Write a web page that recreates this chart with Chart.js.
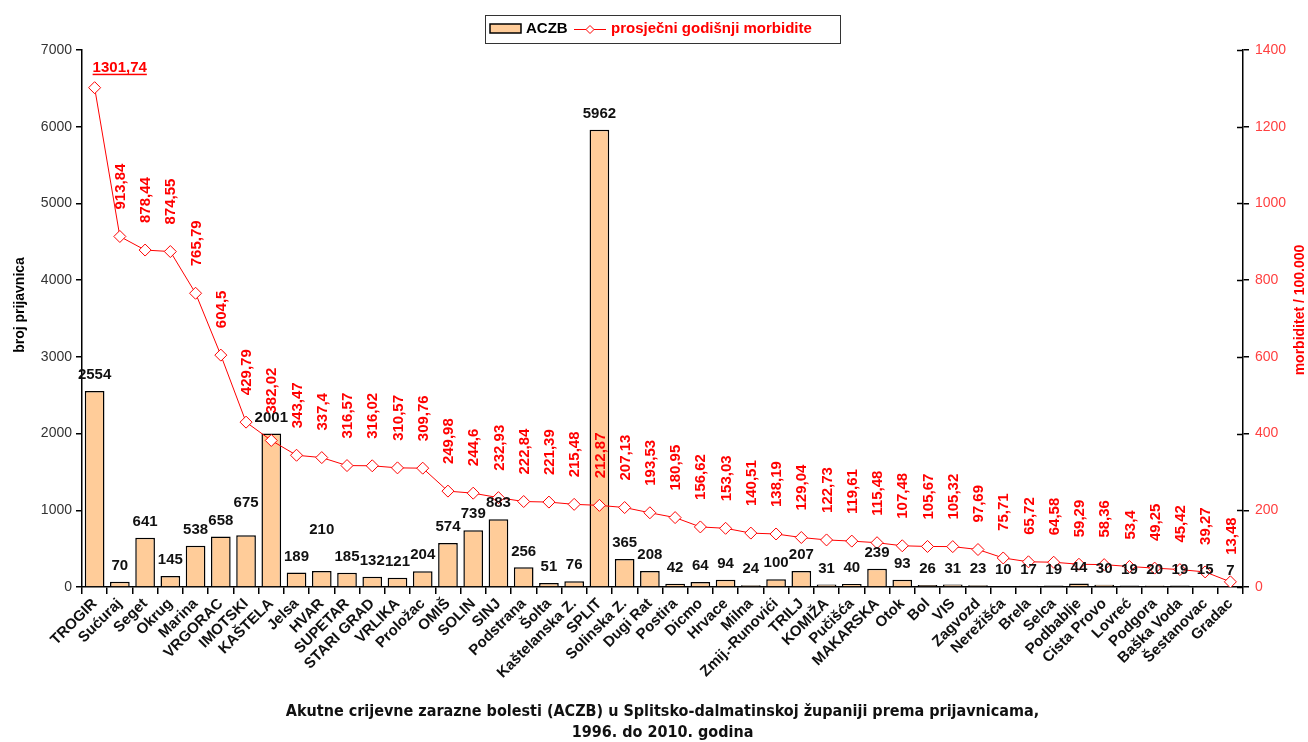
<!DOCTYPE html>
<html>
<head>
<meta charset="utf-8">
<title>ACZB - Splitsko-dalmatinska županija</title>
<script src="https://cdn.jsdelivr.net/npm/chart.js@4.4.1/dist/chart.umd.min.js"></script>
<style>
  html, body { margin: 0; padding: 0; background: #fff; }
</style>
</head>
<body>
<canvas id="chart" width="1308" height="742"></canvas>
<script>
// places, ordered by average yearly morbidity
const places = ['TROGIR', 'Sućuraj', 'Seget', 'Okrug', 'Marina', 'VRGORAC', 'IMOTSKI', 'KAŠTELA',
  'Jelsa', 'HVAR', 'SUPETAR', 'STARI GRAD', 'VRLIKA', 'Proložac', 'OMIŠ', 'SOLIN', 'SINJ',
  'Podstrana', 'Šolta', 'Kaštelanska Z.', 'SPLIT', 'Solinska Z.', 'Dugi Rat', 'Postira', 'Dicmo',
  'Hrvace', 'Milna', 'Zmij.-Runovići', 'TRILJ', 'KOMIŽA', 'Pučišća', 'MAKARSKA', 'Otok', 'Bol',
  'VIS', 'Zagvozd', 'Nerežišća', 'Brela', 'Selca', 'Podbablje', 'Cista Provo', 'Lovreć',
  'Podgora', 'Baška Voda', 'Šestanovac', 'Gradac'];

// number of reports (ACZB)
const cases = [2554, 70, 641, 145, 538, 658, 675, 2001, 189, 210, 185, 132, 121, 204, 574, 739, 883,
  256, 51, 76, 5962, 365, 208, 42, 64, 94, 24, 100, 207, 31, 40, 239, 93, 26, 31, 23, 10, 17, 19,
  44, 30, 19, 20, 19, 15, 7];

// average yearly morbidity per 100.000
const morbidity = [1301.74, 913.84, 878.44, 874.55, 765.79, 604.5, 429.79, 382.02, 343.47, 337.4,
  316.57, 316.02, 310.57, 309.76, 249.98, 244.6, 232.93, 222.84, 221.39, 215.48, 212.87, 207.13,
  193.53, 180.95, 156.62, 153.03, 140.51, 138.19, 129.04, 122.73, 119.61, 115.48, 107.48, 105.67,
  105.32, 97.69, 75.71, 65.72, 64.58, 59.29, 58.36, 53.4, 49.25, 45.42, 39.27, 13.48];

const casesMax = 7000, casesStep = 1000;
const morbMax = 1400, morbStep = 200;

const seriesNames = ['ACZB', 'prosječni godišnji morbidite'];
const captionLines = [
  'Akutne crijevne zarazne bolesti (ACZB) u Splitsko-dalmatinskoj županiji prema prijavnicama,',
  '1996. do 2010. godina'
];

const FONT = '"Liberation Sans", Arial, sans-serif';
const BAR_FILL = '#ffcc99';
const RED = '#ff0000';

// bar labels that sit higher than the rest
const barLift = { 'IMOTSKI': 16, 'HVAR': 25 };

function fmt(v) {
  return String(v).replace('.', ',');
}

function diamond(ctx, x, y, r) {
  ctx.beginPath();
  ctx.moveTo(x, y - r);
  ctx.lineTo(x + r, y);
  ctx.lineTo(x, y + r);
  ctx.lineTo(x - r, y);
  ctx.closePath();
  ctx.fillStyle = '#fff';
  ctx.fill();
  ctx.strokeStyle = RED;
  ctx.lineWidth = 1;
  ctx.stroke();
}

const decorations = {
  id: 'decorations',
  afterDatasetsDraw(chart) {
    const ctx = chart.ctx;
    // dataset 0 is the line, dataset 1 the bars
    const points = chart.getDatasetMeta(0).data;
    const bars = chart.getDatasetMeta(1).data;
    ctx.save();

    // value on top of each bar
    ctx.font = 'bold 15px ' + FONT;
    ctx.fillStyle = '#111';
    ctx.textAlign = 'center';
    ctx.textBaseline = 'middle';
    bars.forEach((bar, i) => {
      const lift = barLift[places[i]] || 0;
      ctx.fillText(String(cases[i]), bar.x, bar.y - 16 - lift);
    });

    // morbidity labels, written upwards above the markers
    ctx.fillStyle = RED;
    points.forEach((pt, i) => {
      const text = fmt(morbidity[i]);
      if (i === 0) {
        ctx.textAlign = 'left';
        ctx.textBaseline = 'alphabetic';
        const x0 = pt.x - 2, y0 = pt.y - 16;
        ctx.fillText(text, x0, y0);
        const w = ctx.measureText(text).width;
        ctx.fillRect(x0, y0 + 2, w, 1.5);
        return;
      }
      ctx.save();
      ctx.translate(pt.x + 1, pt.y - 27);
      ctx.rotate(-Math.PI / 2);
      ctx.textAlign = 'left';
      ctx.textBaseline = 'middle';
      ctx.fillText(text, 0, 0);
      ctx.restore();
    });
    ctx.restore();
  },
  afterDraw(chart) {
    const ctx = chart.ctx;
    const area = chart.chartArea;
    ctx.save();

    // right axis ticks cross the axis line
    const right = chart.scales.y1;
    ctx.strokeStyle = '#000';
    ctx.lineWidth = 1.5;
    right.ticks.forEach(t => {
      const y = Math.round(right.getPixelForValue(t.value)) + 0.5;
      ctx.beginPath();
      ctx.moveTo(area.right - 6, y);
      ctx.lineTo(area.right, y);
      ctx.stroke();
    });

    // axis titles
    ctx.font = 'bold 14px ' + FONT;
    ctx.textAlign = 'center';
    ctx.textBaseline = 'middle';
    ctx.fillStyle = '#000';
    ctx.save();
    ctx.translate(20, 305);
    ctx.rotate(-Math.PI / 2);
    ctx.fillText('broj prijavnica', 0, 0);
    ctx.restore();
    ctx.fillStyle = RED;
    ctx.save();
    ctx.translate(1300, 310);
    ctx.rotate(-Math.PI / 2);
    ctx.fillText('morbiditet / 100.000', 0, 0);
    ctx.restore();

    // caption under the axis
    ctx.fillStyle = '#111';
    ctx.font = 'bold 16px "Liberation Sans Narrow", "DejaVu Sans Condensed", ' + FONT;
    const cx = (area.left + area.right) / 2;
    ctx.fillText(captionLines[0], cx, 712);
    ctx.fillText(captionLines[1], cx, 733);

    // legend box
    const lx = 485, ly = 15, lw = 355, lh = 28;
    ctx.fillStyle = '#fff';
    ctx.fillRect(lx, ly, lw, lh);
    ctx.strokeStyle = '#333';
    ctx.lineWidth = 1;
    ctx.strokeRect(lx + 0.5, ly + 0.5, lw, lh);

    ctx.fillStyle = BAR_FILL;
    ctx.fillRect(490, 24, 31, 9);
    ctx.strokeStyle = '#000';
    ctx.lineWidth = 1.5;
    ctx.strokeRect(490, 24, 31, 9);

    ctx.font = 'bold 15px ' + FONT;
    ctx.textAlign = 'left';
    ctx.fillStyle = '#000';
    ctx.fillText(seriesNames[0], 526, 29);

    ctx.strokeStyle = RED;
    ctx.lineWidth = 1;
    ctx.beginPath();
    ctx.moveTo(574, 29.5);
    ctx.lineTo(606, 29.5);
    ctx.stroke();
    diamond(ctx, 590, 29.5, 4);

    ctx.save();
    ctx.beginPath();
    ctx.rect(lx, ly, lw - 1, lh);
    ctx.clip();
    ctx.fillStyle = RED;
    ctx.font = 'bold 15px ' + FONT;
    ctx.fillText(seriesNames[1], 611, 29);
    ctx.restore();

    ctx.restore();
  }
};

new Chart(document.getElementById('chart'), {
  data: {
    labels: places,
    datasets: [
      {
        type: 'line',
        label: seriesNames[1],
        data: morbidity,
        yAxisID: 'y1',
        order: 0,
        borderColor: RED,
        borderWidth: 1,
        tension: 0,
        pointStyle: 'rectRot',
        pointRadius: 6,
        pointBackgroundColor: '#fff',
        pointBorderColor: RED,
        pointBorderWidth: 1
      },
      {
        type: 'bar',
        label: seriesNames[0],
        data: cases,
        yAxisID: 'y',
        order: 1,
        backgroundColor: BAR_FILL,
        borderColor: '#000',
        borderWidth: 1.5,
        barPercentage: 0.78,
        categoryPercentage: 1
      }
    ]
  },
  options: {
    responsive: false,
    animation: false,
    layout: { padding: { top: 50, left: 0, right: 0, bottom: 0 } },
    plugins: {
      legend: { display: false },
      title: { display: false },
      tooltip: { enabled: false }
    },
    scales: {
      x: {
        offset: true,
        grid: { drawOnChartArea: false, drawTicks: true, tickLength: 7, color: '#000', lineWidth: 1.5, offset: true },
        border: { color: '#000', width: 1.5 },
        ticks: {
          autoSkip: false,
          minRotation: 45,
          maxRotation: 45,
          padding: 1,
          color: '#111',
          font: { family: FONT, size: 15, weight: 'bold' }
        },
        afterFit(scale) { scale.height = 155; }
      },
      y: {
        position: 'left',
        min: 0,
        max: casesMax,
        grid: { drawOnChartArea: false, tickLength: 6, color: '#000', lineWidth: 1.5 },
        border: { color: '#000', width: 1.5 },
        ticks: {
          stepSize: casesStep,
          padding: 4,
          color: '#333',
          font: { family: FONT, size: 14 },
          callback: v => String(v)
        },
        afterFit(scale) { scale.width = 82; }
      },
      y1: {
        position: 'right',
        min: 0,
        max: morbMax,
        grid: { drawOnChartArea: false, tickLength: 6, color: '#000', lineWidth: 1.5 },
        border: { color: '#000', width: 1.5 },
        ticks: {
          stepSize: morbStep,
          padding: 6,
          color: '#ff4040',
          font: { family: FONT, size: 14 },
          callback: v => String(v)
        },
        afterFit(scale) { scale.width = 65; }
      }
    }
  },
  plugins: [decorations]
});
</script>
</body>
</html>
